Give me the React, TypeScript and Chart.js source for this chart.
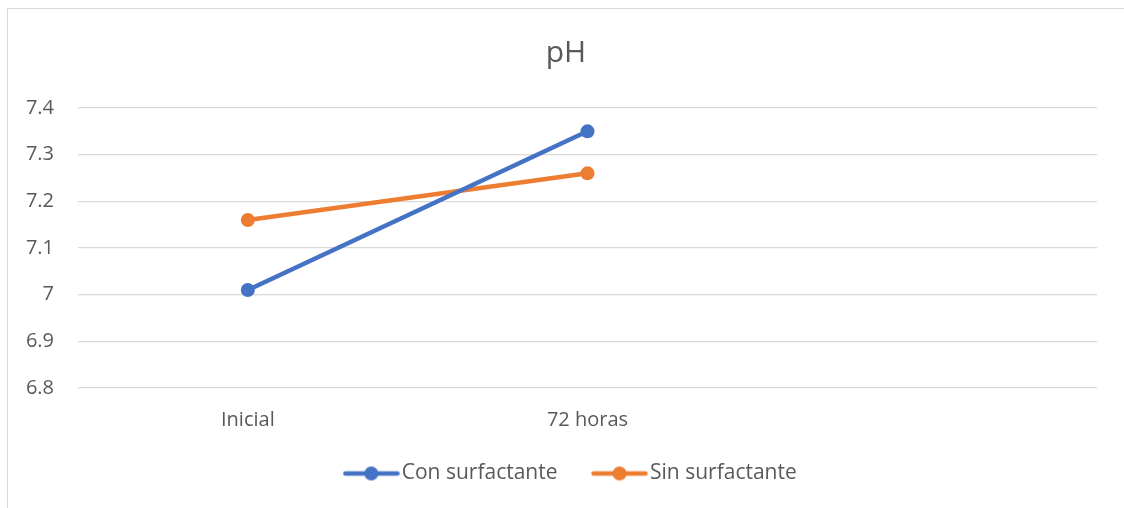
import React, { useEffect, useRef } from "react";
import { Chart, registerables } from "chart.js";

Chart.register(...registerables);

const categories = ["Inicial", "72 horas", ""];
const conSurfactante = [7.01, 7.35, null];
const sinSurfactante = [7.16, 7.26, null];
const seriesNames = ["Con surfactante", "Sin surfactante"];
const seriesColors = ["#4472C4", "#ED7D31"];
const yMin = 6.8;
const yMax = 7.4;
const yStep = 0.1;

const FONT = "'Open Sans', Lato, sans-serif";
const TEXT = "#595959";

function makeLegendMarker(color: string) {
  const c = document.createElement("canvas");
  c.width = 57;
  c.height = 16;
  const ctx = c.getContext("2d")!;
  ctx.strokeStyle = color;
  ctx.lineWidth = 4.5;
  ctx.lineCap = "round";
  ctx.beginPath();
  ctx.moveTo(2.5, 8);
  ctx.lineTo(54.5, 8);
  ctx.stroke();
  ctx.fillStyle = color;
  ctx.beginPath();
  ctx.arc(28.5, 8, 7, 0, Math.PI * 2);
  ctx.fill();
  return c;
}

const legendShift = {
  id: "legendShift",
  afterLayout(chart: any) {
    const lg = chart.legend;
    if (lg) {
      lg.left += 8;
      lg.right += 8;
    }
  },
};

export default function App() {
  const ref = useRef<HTMLCanvasElement | null>(null);

  useEffect(() => {
    if (!ref.current) return;
    const markers = seriesColors.map(makeLegendMarker);
    const chart = new Chart(ref.current, {
      type: "line",
      data: {
        labels: categories,
        datasets: [
          {
            label: seriesNames[0],
            data: conSurfactante,
            borderColor: seriesColors[0],
            backgroundColor: seriesColors[0],
            borderWidth: 4.5,
            pointRadius: 7,
            pointHoverRadius: 7,
            pointBorderWidth: 0,
            pointBackgroundColor: seriesColors[0],
          },
          {
            label: seriesNames[1],
            data: sinSurfactante,
            borderColor: seriesColors[1],
            backgroundColor: seriesColors[1],
            borderWidth: 4.5,
            pointRadius: 7,
            pointHoverRadius: 7,
            pointBorderWidth: 0,
            pointBackgroundColor: seriesColors[1],
          },
        ],
      },
      options: {
        animation: false,
        responsive: true,
        maintainAspectRatio: false,
        layout: { padding: { top: 0, right: 0, bottom: 14, left: 0 } },
        plugins: {
          title: {
            display: true,
            text: "pH",
            color: TEXT,
            font: { family: FONT, size: 30, weight: "normal", lineHeight: 1.2 },
            padding: { top: 26, bottom: 37 },
          },
          legend: {
            position: "bottom",
            labels: {
              color: TEXT,
              font: { family: FONT, size: 21 },
              usePointStyle: true,
              pointStyleWidth: 40,
              padding: 42,
              generateLabels: (ch: any) => {
                const items = Chart.defaults.plugins.legend.labels.generateLabels(ch);
                return items.map((it: any, i: number) => ({
                  ...it,
                  pointStyle: markers[i],
                  lineWidth: 0,
                }));
              },
            },
          },
          tooltip: { enabled: false },
        },
        scales: {
          x: {
            offset: true,
            grid: { display: false, drawTicks: false },
            border: { display: false },
            ticks: {
              color: TEXT,
              font: { family: FONT, size: 20, lineHeight: 1.2 },
              mirror: true,
              padding: -44,
              maxRotation: 0,
            },
            afterFit: (s: any) => {
              s.height = 33;
            },
          },
          y: {
            min: yMin,
            max: yMax,
            grid: { color: "#d9d9d9", lineWidth: 1.3, drawTicks: false },
            border: { display: false },
            ticks: {
              stepSize: yStep,
              color: TEXT,
              font: { family: FONT, size: 20 },
              padding: 24,
              callback: (v: any) => String(Math.round(Number(v) * 10) / 10),
            },
            afterFit: (s: any) => {
              s.width = 70;
            },
          },
          yRight: {
            type: "linear",
            position: "right",
            min: yMin,
            max: yMax,
            grid: { display: false, drawTicks: false },
            border: { display: false },
            ticks: { display: false },
            afterFit: (s: any) => {
              s.width = 27;
            },
          },
        },
      },
      plugins: [legendShift],
    });
    return () => chart.destroy();
  }, []);

  return (
    <div
      style={{
        position: "fixed",
        left: 7,
        top: 8,
        width: 1117,
        height: 500,
        borderTop: "1px solid #d9d9d9",
        borderLeft: "1px solid #d9d9d9",
        boxSizing: "border-box",
        background: "#fff",
      }}
    >
      <div style={{ position: "absolute", left: 0, top: 0, width: 1116, height: 499 }}>
        <canvas ref={ref} />
      </div>
    </div>
  );
}
